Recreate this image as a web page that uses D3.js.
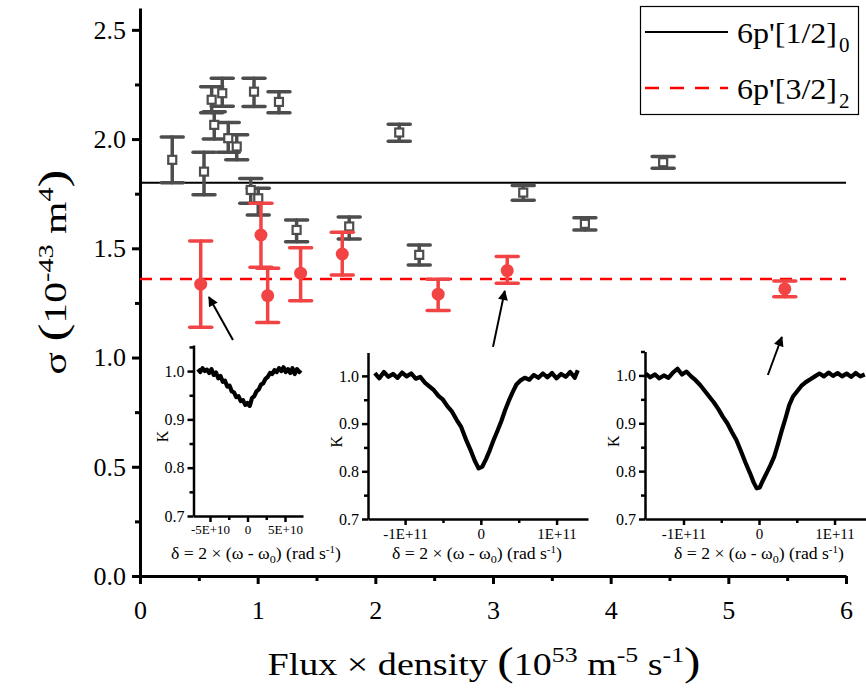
<!DOCTYPE html>
<html>
<head>
<meta charset="utf-8">
<script src="https://cdn.jsdelivr.net/npm/d3@7"></script>
<style>
  body { margin: 0; background: #fff; }
  svg { display: block; font-family: "Times New Roman", "Liberation Serif", "DejaVu Serif", serif; }
  svg text { font-family: "Times New Roman", "Liberation Serif", "DejaVu Serif", serif; }
</style>
</head>
<body>
<svg id="chart" width="866" height="690"></svg>
<script>
// main panel data: [flux x density, sigma, lower, upper]
const halfZeroPoints = [
  [0.274, 1.905, 1.800, 2.010],
  [0.544, 1.851, 1.745, 1.940],
  [0.609, 2.180, 2.120, 2.240],
  [0.631, 2.065, 2.000, 2.125],
  [0.699, 2.210, 2.150, 2.279],
  [0.750, 2.004, 1.940, 2.076],
  [0.822, 1.966, 1.905, 2.020],
  [0.941, 1.767, 1.706, 1.820],
  [0.969, 2.217, 2.149, 2.279],
  [1.005, 1.729, 1.653, 1.775],
  [1.181, 2.170, 2.120, 2.217],
  [1.331, 1.584, 1.530, 1.630],
  [1.778, 1.600, 1.543, 1.643],
  [2.203, 2.030, 1.990, 2.068],
  [2.373, 1.470, 1.424, 1.515],
  [3.257, 1.755, 1.720, 1.787],
  [3.781, 1.612, 1.584, 1.640],
  [4.446, 1.894, 1.866, 1.920]
]
const threeHalfTwoPoints = [
  [0.516, 1.336, 1.139, 1.534],
  [1.028, 1.561, 1.413, 1.706],
  [1.085, 1.283, 1.160, 1.409],
  [1.365, 1.386, 1.260, 1.503],
  [1.719, 1.474, 1.378, 1.574],
  [2.534, 1.290, 1.215, 1.358],
  [3.121, 1.398, 1.340, 1.462],
  [5.480, 1.314, 1.278, 1.350]
]
const levelHalfZero = 1.80
const levelThreeHalfTwo = 1.36
const legendLabels = [["6p'[1/2]", "0"], ["6p'[3/2]", "2"]]

const xTicks = [0, 1, 2, 3, 4, 5, 6]
const xMinor = [0.5, 1.5, 2.5, 3.5, 4.5, 5.5]
const yTicks = [0, 0.5, 1.0, 1.5, 2.0, 2.5]
const yMinor = [0.25, 0.75, 1.25, 1.75, 2.25]

// arrows in data units: [x0, y0, x1, y1]
const arrows = [
  [0.79, 1.08, 0.586, 1.277],
  [3.00, 1.049, 3.10, 1.305],
  [5.336, 0.92, 5.455, 1.094]
]

// inset spectra: [detuning in 1E10 rad/s, K]
const spectrum1 = [
  [-6.6,1.004],[-6.3,0.998],[-6.0,1.006],[-5.7,1.000],[-5.4,1.003],[-5.1,0.996],[-4.8,1.004],
  [-4.5,0.992],[-4.2,0.997],[-3.9,0.985],[-3.6,0.990],[-3.3,0.978],[-3.0,0.980],[-2.7,0.968],
  [-2.4,0.970],[-2.1,0.958],[-1.8,0.956],[-1.5,0.946],[-1.2,0.948],[-0.9,0.938],[-0.6,0.940],
  [-0.3,0.930],[0.0,0.934],[0.3,0.928],[0.6,0.944],[0.9,0.948],[1.2,0.958],[1.5,0.962],
  [1.8,0.972],[2.1,0.975],[2.4,0.984],[2.7,0.988],[3.0,0.996],[3.3,0.994],[3.6,1.002],
  [3.9,0.998],[4.2,1.006],[4.5,1.000],[4.8,1.008],[5.1,0.998],[5.4,1.004],[5.7,0.996],
  [6.0,1.006],[6.3,0.994],[6.6,1.004],[6.9,0.998],[7.1,1.002]
]
const spectrum2 = [
  [-14.0,1.006],[-13.4,0.995],[-12.8,1.008],[-12.2,0.998],[-11.6,1.004],[-11.0,0.996],
  [-10.4,1.007],[-9.8,0.999],[-9.2,1.005],[-8.6,0.994],[-8.0,0.998],[-7.4,0.986],[-6.8,0.978],
  [-6.2,0.970],[-5.6,0.958],[-5.0,0.950],[-4.4,0.936],[-3.8,0.925],[-3.2,0.908],[-2.6,0.893],
  [-2.0,0.868],[-1.4,0.846],[-0.8,0.822],[-0.3,0.806],[0.2,0.810],[0.7,0.826],[1.2,0.845],
  [1.7,0.866],[2.2,0.885],[2.7,0.905],[3.2,0.928],[3.7,0.948],[4.2,0.966],[4.7,0.982],
  [5.2,0.990],[5.8,0.996],[6.4,0.992],[7.0,1.002],[7.6,0.996],[8.2,1.005],[8.8,0.997],
  [9.4,1.006],[10.0,0.995],[10.6,1.004],[11.2,0.998],[11.8,1.008],[12.4,0.996],[12.8,1.012]
]
const spectrum3 = [
  [-15.0,1.004],[-14.4,0.996],[-13.8,1.002],[-13.2,0.994],[-12.6,1.000],[-12.0,0.995],
  [-11.4,1.006],[-10.8,1.014],[-10.2,1.002],[-9.6,1.008],[-9.0,0.998],[-8.4,0.990],[-7.8,0.980],
  [-7.2,0.968],[-6.6,0.956],[-6.0,0.944],[-5.4,0.930],[-4.8,0.914],[-4.2,0.900],[-3.6,0.882],
  [-3.0,0.865],[-2.4,0.842],[-1.8,0.818],[-1.2,0.796],[-0.7,0.776],[-0.3,0.764],[0.1,0.766],
  [0.5,0.780],[1.0,0.796],[1.5,0.812],[2.0,0.830],[2.5,0.856],[3.0,0.884],[3.5,0.910],
  [4.0,0.938],[4.5,0.956],[5.0,0.966],[5.6,0.978],[6.2,0.986],[6.8,0.992],[7.4,0.998],
  [8.0,1.004],[8.6,0.998],[9.2,1.006],[9.8,0.999],[10.4,1.005],[11.0,0.998],[11.6,1.004],
  [12.2,0.997],[12.8,1.005],[13.4,0.998],[14.0,1.002]
]
const kTicks = [0.7, 0.8, 0.9, 1.0]
const kMinor = [0.75, 0.85, 0.95, 1.05]
const narrowTicks = [-5, 0, 5]
const narrowLabels = ["-5E+10", "0", "5E+10"]
const narrowMinor = [-2.5, 2.5]
const wideTicks = [-10, 0, 10]
const wideLabels = ["-1E+11", "0", "1E+11"]
const wideMinor = [-5, 5]

const BLACK_C = '#4d4d4d'
const RED_C = '#f24444'
const SERIF = '"Times New Roman", "Liberation Serif", "DejaVu Serif", serif'

const $svg = d3.select('#chart')

const x = d3.scaleLinear().domain([0, 6]).range([140, 846])
const y = d3.scaleLinear().domain([0, 2.6]).range([576, 8])

function styleAxis(g, fontSize, width) {
  g.attr('font-family', SERIF)
  g.select('.domain').attr('stroke', '#000').attr('stroke-width', width)
  g.selectAll('.tick line').attr('stroke', '#000').attr('stroke-width', width)
  g.selectAll('.tick text').attr('fill', '#000').style('font-size', fontSize + 'px')
}

function drawMain() {
  // minor ticks
  $svg.append('g')
    .attr('transform', 'translate(0,576)')
    .call(d3.axisBottom(x).tickValues(xMinor).tickSize(5).tickFormat('').tickSizeOuter(0))
    .call(g => { styleAxis(g, 10, 3); g.select('.domain').remove() })
  $svg.append('g')
    .attr('transform', 'translate(140,0)')
    .call(d3.axisLeft(y).tickValues(yMinor).tickSize(5).tickFormat('').tickSizeOuter(0))
    .call(g => { styleAxis(g, 10, 3); g.select('.domain').remove() })

  $svg.append('g')
    .attr('class', 'axis x-axis')
    .attr('transform', 'translate(0,576)')
    .call(d3.axisBottom(x).tickValues(xTicks).tickSize(8).tickPadding(17).tickSizeOuter(0).tickFormat(d3.format('d')))
    .call(g => styleAxis(g, 26, 3))

  $svg.append('g')
    .attr('class', 'axis y-axis')
    .attr('transform', 'translate(140,0)')
    .call(d3.axisLeft(y).tickValues(yTicks).tickSize(8).tickPadding(6).tickSizeOuter(0).tickFormat(d3.format('.1f')))
    .call(g => styleAxis(g, 26, 3))

  // axis titles
  const xt = $svg.append('text')
    .attr('x', 484).attr('y', 675)
    .attr('text-anchor', 'middle')
    .attr('textLength', 433).attr('lengthAdjust', 'spacingAndGlyphs')
    .style('font-size', '31px')
  xt.append('tspan').text('Flux × density ')
  xt.append('tspan').style('font-size', '40px').text('(')
  xt.append('tspan').text('10')
  xt.append('tspan').attr('dy', -13).style('font-size', '21px').text('53')
  xt.append('tspan').attr('dy', 13).text(' m')
  xt.append('tspan').attr('dy', -13).style('font-size', '21px').text('-5')
  xt.append('tspan').attr('dy', 13).text(' s')
  xt.append('tspan').attr('dy', -13).style('font-size', '21px').text('-1')
  xt.append('tspan').attr('dy', 13).style('font-size', '40px').text(')')

  const yt = $svg.append('text')
    .attr('transform', 'translate(66,272) rotate(-90)')
    .attr('text-anchor', 'middle')
    .attr('textLength', 205).attr('lengthAdjust', 'spacingAndGlyphs')
    .style('font-size', '31px')
  yt.append('tspan').text('σ ')
  yt.append('tspan').style('font-size', '40px').text('(')
  yt.append('tspan').text('10')
  yt.append('tspan').attr('dy', -13).style('font-size', '21px').text('-43')
  yt.append('tspan').attr('dy', 13).text(' m')
  yt.append('tspan').attr('dy', -13).style('font-size', '21px').text('4')
  yt.append('tspan').attr('dy', 13).style('font-size', '40px').text(')')

  // reference levels
  $svg.append('line')
    .attr('x1', x(0)).attr('x2', x(6))
    .attr('y1', y(levelHalfZero)).attr('y2', y(levelHalfZero))
    .attr('stroke', '#000').attr('stroke-width', 2)
  $svg.append('line')
    .attr('x1', x(0)).attr('x2', x(6))
    .attr('y1', y(levelThreeHalfTwo)).attr('y2', y(levelThreeHalfTwo))
    .attr('stroke', '#ff0000').attr('stroke-width', 2.5)
    .attr('stroke-dasharray', '12,8')

  // error bars
  function errorBars(data, color, cls) {
    const g = $svg.append('g').attr('class', cls)
      .attr('stroke', color).attr('stroke-width', 3.5).attr('stroke-linecap', 'round')
    g.selectAll('.stem').data(data).enter().append('line')
      .attr('x1', d => x(d[0])).attr('x2', d => x(d[0]))
      .attr('y1', d => y(d[2])).attr('y2', d => y(d[3]))
    g.selectAll('.cap-lo').data(data).enter().append('line')
      .attr('x1', d => x(d[0]) - 11).attr('x2', d => x(d[0]) + 11)
      .attr('y1', d => y(d[2])).attr('y2', d => y(d[2]))
    g.selectAll('.cap-hi').data(data).enter().append('line')
      .attr('x1', d => x(d[0]) - 11).attr('x2', d => x(d[0]) + 11)
      .attr('y1', d => y(d[3])).attr('y2', d => y(d[3]))
    return g
  }
  errorBars(halfZeroPoints, BLACK_C, 'err-black')
  $svg.append('g').selectAll('rect').data(halfZeroPoints).enter().append('rect')
    .attr('x', d => x(d[0]) - 4).attr('y', d => y(d[1]) - 4)
    .attr('width', 8).attr('height', 8)
    .attr('fill', '#fff').attr('stroke', BLACK_C).attr('stroke-width', 2.2)

  errorBars(threeHalfTwoPoints, RED_C, 'err-red')
  $svg.append('g').selectAll('circle').data(threeHalfTwoPoints).enter().append('circle')
    .attr('cx', d => x(d[0])).attr('cy', d => y(d[1])).attr('r', 6.5)
    .attr('fill', RED_C)

  // arrows
  const defs = $svg.append('defs')
  defs.append('marker').attr('id', 'head')
    .attr('viewBox', '0 0 10 10').attr('refX', 9).attr('refY', 5)
    .attr('markerWidth', 6).attr('markerHeight', 5).attr('orient', 'auto')
    .attr('markerUnits', 'strokeWidth')
    .append('path').attr('d', 'M0,0 L10,5 L0,10 z').attr('fill', '#000')
  $svg.append('g').selectAll('line').data(arrows).enter().append('line')
    .attr('x1', d => x(d[0])).attr('y1', d => y(d[1]))
    .attr('x2', d => x(d[2])).attr('y2', d => y(d[3]))
    .attr('stroke', '#000').attr('stroke-width', 2)
    .attr('marker-end', 'url(#head)')

  // legend
  const $gLegend = $svg.append('g').attr('class', 'legend')
  $gLegend.append('rect')
    .attr('x', 640.5).attr('y', 6.5).attr('width', 218).attr('height', 108)
    .attr('fill', '#fff').attr('stroke', '#000').attr('stroke-width', 1.2)
  const rows = [
    { yy: 32, color: '#000', dash: null, w: 2 },
    { yy: 88, color: '#ff0000', dash: '14,11', w: 2.5 }
  ]
  rows.forEach((r, i) => {
    $gLegend.append('line')
      .attr('x1', 645).attr('x2', 728).attr('y1', r.yy).attr('y2', r.yy)
      .attr('stroke', r.color).attr('stroke-width', r.w)
      .attr('stroke-dasharray', r.dash)
    $gLegend.append('text')
      .attr('x', 737).attr('y', r.yy + 11)
      .attr('textLength', 100).attr('lengthAdjust', 'spacingAndGlyphs')
      .style('font-size', '29px')
      .text(legendLabels[i][0])
    $gLegend.append('text')
      .attr('x', 839).attr('y', r.yy + 20)
      .style('font-size', '21px')
      .text(legendLabels[i][1])
  })
}

function drawInset(cfg) {
  const sx = d3.scaleLinear().domain(cfg.xDomain).range(cfg.xRange)
  const sy = d3.scaleLinear().domain(cfg.yDomain).range(cfg.yRange)
  const g = $svg.append('g').attr('class', 'inset')
  const bottom = cfg.yRange[0], left = cfg.xRange[0]

  g.append('g').attr('transform', `translate(0,${bottom})`)
    .call(d3.axisBottom(sx).tickValues(cfg.minor).tickSize(4).tickFormat('').tickSizeOuter(0))
    .call(a => { styleAxis(a, 10, 2.5); a.select('.domain').remove() })
  g.append('g').attr('transform', `translate(${left},0)`)
    .call(d3.axisLeft(sy).tickValues(kMinor.filter(v => v <= cfg.yDomain[1])).tickSize(4).tickFormat('').tickSizeOuter(0))
    .call(a => { styleAxis(a, 10, 2.5); a.select('.domain').remove() })

  g.append('g').attr('transform', `translate(0,${bottom})`)
    .call(d3.axisBottom(sx).tickValues(cfg.ticks).tickSize(6).tickPadding(3).tickSizeOuter(0)
      .tickFormat((d, i) => cfg.labels[i]))
    .call(a => styleAxis(a, cfg.tickFont, 2.5))
  g.append('g').attr('transform', `translate(${left},0)`)
    .call(d3.axisLeft(sy).tickValues(kTicks).tickSize(6).tickPadding(3).tickSizeOuter(0)
      .tickFormat(d3.format('.1f')))
    .call(a => styleAxis(a, 16, 2.5))

  g.append('text')
    .attr('transform', `translate(${left - 26},${(cfg.yRange[0] + cfg.yRange[1]) / 2 + 6}) rotate(-90)`)
    .attr('text-anchor', 'middle').style('font-size', '16px').text('K')

  const t = g.append('text')
    .attr('x', cfg.titleX).attr('y', 559)
    .attr('text-anchor', 'middle')
    .attr('textLength', 170).attr('lengthAdjust', 'spacingAndGlyphs')
    .style('font-size', '16px')
  t.append('tspan').text('δ = 2 × (ω - ω')
  t.append('tspan').attr('dy', 4).style('font-size', '11px').text('0')
  t.append('tspan').attr('dy', -4).text(') (rad s')
  t.append('tspan').attr('dy', -6).style('font-size', '10px').text('-1')
  t.append('tspan').attr('dy', 6).text(')')

  g.append('path')
    .datum(cfg.data)
    .attr('fill', 'none').attr('stroke', '#000').attr('stroke-width', 4.2)
    .attr('stroke-linejoin', 'round')
    .attr('d', d3.line().x(d => sx(d[0])).y(d => sy(d[1])))
}

drawMain()
drawInset({ data: spectrum1, xDomain: [-7.2, 7.4], xRange: [193.5, 303],
  yDomain: [0.7, 1.054], yRange: [516, 345], tickFont: 13,
  ticks: narrowTicks, labels: narrowLabels, minor: narrowMinor, titleX: 256 })
drawInset({ data: spectrum2, xDomain: [-14.9, 14.15], xRange: [368, 588],
  yDomain: [0.7, 1.049], yRange: [519, 352.5], tickFont: 15,
  ticks: wideTicks, labels: wideLabels, minor: wideMinor, titleX: 477 })
drawInset({ data: spectrum3, xDomain: [-15.1, 14.3], xRange: [645, 867],
  yDomain: [0.7, 1.05], yRange: [519, 351.5], tickFont: 15,
  ticks: wideTicks, labels: wideLabels, minor: wideMinor, titleX: 759 })
</script>
</body>
</html>
